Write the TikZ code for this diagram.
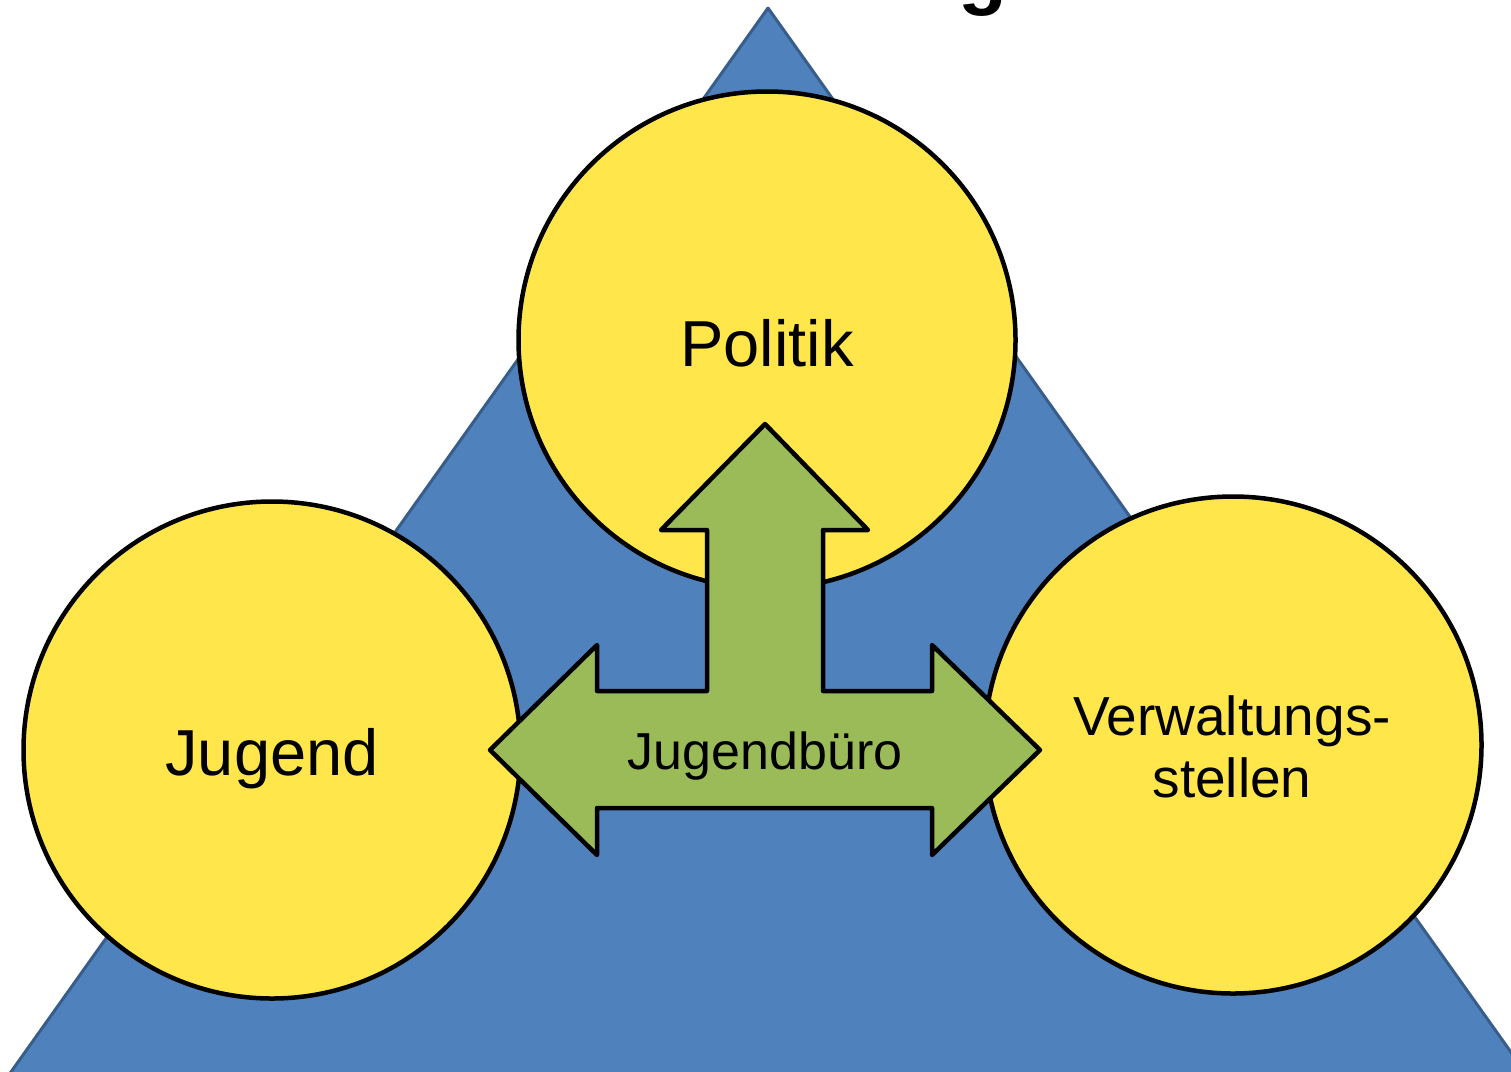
\documentclass[tikz,border=0pt]{standalone}
\usepackage{fontspec}
\setmainfont{Liberation Sans}
\definecolor{triblue}{HTML}{4F81BD}
\definecolor{triedge}{HTML}{385D8A}
\definecolor{circyellow}{HTML}{FFE64A}
\definecolor{arrgreen}{HTML}{9BBB59}
\begin{document}
\begin{tikzpicture}[x=1pt,y=-1pt,
  bigcircle/.style={circle, draw=black, fill=circyellow, line width=4.5pt, minimum size=497pt, inner sep=0pt},
  lbl/.style={anchor=base, inner sep=0pt, font=\fontsize{65}{70}\selectfont},
  arrowshape/.style={draw=black, fill=arrgreen, line width=4.5pt, line join=round}]
\useasboundingbox (0,0) rectangle (1511,1071);
\clip (0,0) rectangle (1511,1071);
% partial title letter
\node[anchor=base, inner sep=0pt, font=\fontsize{80}{80}\selectfont\bfseries] (title) at (983,-1) {g};
% triangle
\draw[fill=triblue, draw=triedge, line width=3pt, line join=round] (768,8) -- (1545,1100) -- (-9,1100) -- cycle;
% circles
\node[bigcircle] (politik) at (767,340) {};
\node[bigcircle] (jugend) at (272,750) {};
\node[bigcircle] (verw) at (1233,745) {};
\node[lbl] (politiklbl) at (767,366) {Politik};
\node[lbl] (jugendlbl) at (272,775) {Jugend};
\node[lbl, font=\fontsize{55}{62}\selectfont] (verwlbl1) at (1232,735) {Verwaltungs-};
\node[lbl, font=\fontsize{55}{62}\selectfont] (verwlbl2) at (1232,797) {stellen};
% three-way arrow
\draw[arrowshape] (765,424) -- (868,530) -- (823,530) -- (823,691) -- (932,691) -- (932,645)
  -- (1040,750) -- (932,855) -- (932,808) -- (597,808) -- (597,855) -- (490,750)
  -- (597,645) -- (597,691) -- (707,691) -- (707,530) -- (661,530) -- cycle;
\node[lbl, font=\fontsize{52}{54}\selectfont] (buero) at (765,769) {Jugendbüro};
\end{tikzpicture}
\end{document}
